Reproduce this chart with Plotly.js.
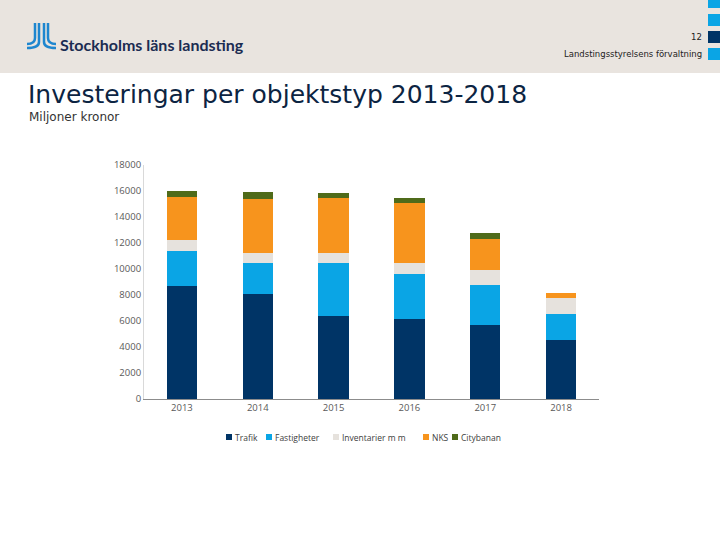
<!DOCTYPE html>
<html><head><meta charset="utf-8">
<script src="https://cdn.plot.ly/plotly-3.0.1.min.js"></script>
<style>body{margin:0;padding:0;background:#fff}#chart{width:720px;height:540px}</style>
</head><body><div id="chart"></div>
<script>
var years = ['2013','2014','2015','2016','2017','2018'];
var trafik = [8700, 8080, 6410, 6180, 5720, 4560];
var fastigheter = [2700, 2380, 4050, 3460, 3020, 2000];
var inventarier = [850, 790, 740, 820, 1180, 1230];
var nks = [3270, 4160, 4290, 4640, 2360, 360];
var citybanan = [480, 490, 360, 390, 460, 0];
var seriesNames = ['Trafik','Fastigheter','Inventarier m m','NKS','Citybanan'];
var seriesColors = ['#003466','#0aa5e5','#e6e2dd','#f7941d','#4f6b1a'];
var yTicks = [0,2000,4000,6000,8000,10000,12000,14000,16000,18000];

var L=144, R=599, T=165, B=399;
function X(p){return (p-L)/(R-L);}
function Y(p){return (B-p)/(B-T);}

var vals=[trafik,fastigheter,inventarier,nks,citybanan];
var traces = vals.map(function(v,i){
  return {type:'bar', x:years, y:v, name:seriesNames[i], marker:{color:seriesColors[i]}, hoverinfo:'x+y+name', showlegend:false};
});

function P(cmds){
  return cmds.map(function(c){
    if(c[0]==='M'||c[0]==='L') return c[0]+X(c[1]).toFixed(5)+','+Y(c[2]).toFixed(5);
    if(c[0]==='Q') return 'Q'+X(c[1]).toFixed(5)+','+Y(c[2]).toFixed(5)+' '+X(c[3]).toFixed(5)+','+Y(c[4]).toFixed(5);
  }).join(' ');
}
var logoColor='#1e86cf';
var shapes=[
  {type:'rect',xref:'paper',yref:'paper',x0:X(0),x1:X(720),y0:Y(73),y1:Y(0),fillcolor:'#e9e4df',line:{width:0},layer:'below'},
  {type:'rect',xref:'paper',yref:'paper',x0:X(708),x1:X(721),y0:Y(8),y1:Y(-1),fillcolor:'#0aa5e5',line:{width:0}},
  {type:'rect',xref:'paper',yref:'paper',x0:X(708),x1:X(721),y0:Y(26),y1:Y(14),fillcolor:'#0aa5e5',line:{width:0}},
  {type:'rect',xref:'paper',yref:'paper',x0:X(708),x1:X(721),y0:Y(43),y1:Y(31),fillcolor:'#003466',line:{width:0}},
  {type:'rect',xref:'paper',yref:'paper',x0:X(708),x1:X(721),y0:Y(60),y1:Y(48),fillcolor:'#0aa5e5',line:{width:0}},
  {type:'path',xref:'paper',yref:'paper',path:P([['M',35,23],['L',35,38],['Q',35,44,27,44]]),line:{color:logoColor,width:2.5}},
  {type:'path',xref:'paper',yref:'paper',path:P([['M',39,23],['L',39,42],['Q',39,48,27,48]]),line:{color:logoColor,width:2.5}},
  {type:'path',xref:'paper',yref:'paper',path:P([['M',44,23],['L',44,42],['Q',44,48,56,48]]),line:{color:logoColor,width:2.5}},
  {type:'path',xref:'paper',yref:'paper',path:P([['M',48,23],['L',48,38],['Q',48,44,56,44]]),line:{color:logoColor,width:2.5}}
];

var annotations=[
  {xref:'paper',yref:'paper',x:X(58),y:Y(44),xanchor:'left',yanchor:'middle',showarrow:false,text:'<b>Stockholms läns landsting</b>',font:{family:'Lato, sans-serif',size:16,color:'#1b2c52'}},
  {xref:'paper',yref:'paper',x:X(704),y:Y(37),xanchor:'right',yanchor:'middle',showarrow:false,text:'12',font:{family:'DejaVu Sans, sans-serif',size:8.5,color:'#222'}},
  {xref:'paper',yref:'paper',x:X(704),y:Y(54),xanchor:'right',yanchor:'middle',showarrow:false,text:'Landstingsstyrelsens förvaltning',font:{family:'DejaVu Sans, sans-serif',size:8.5,color:'#222'}},
  {xref:'paper',yref:'paper',x:X(26),y:Y(95),xanchor:'left',yanchor:'middle',showarrow:false,text:'Investeringar per objektstyp 2013-2018',font:{family:'DejaVu Sans, sans-serif',size:25,color:'#0c2442'}},
  {xref:'paper',yref:'paper',x:X(27),y:Y(117),xanchor:'left',yanchor:'middle',showarrow:false,text:'Miljoner kronor',font:{family:'DejaVu Sans, sans-serif',size:12,color:'#333'}}
];

// custom compact legend
var legendSq=[226,266,333,423,452];
seriesNames.forEach(function(n,i){
  shapes.push({type:'rect',xref:'paper',yref:'paper',x0:X(legendSq[i]),x1:X(legendSq[i]+6),y0:Y(440),y1:Y(434),fillcolor:seriesColors[i],line:{width:0}});
  annotations.push({xref:'paper',yref:'paper',x:X(legendSq[i]+7),y:Y(437.5),xanchor:'left',yanchor:'middle',showarrow:false,text:n,font:{family:'Open Sans, sans-serif',size:8.5,color:'#404040'}});
});

var layout={
  width:720,height:540,autosize:false,
  margin:{l:L,r:720-R,t:T,b:540-B,pad:0},
  paper_bgcolor:'#ffffff',plot_bgcolor:'#ffffff',
  barmode:'stack',bargap:0.6,
  showlegend:false,
  xaxis:{type:'category',range:[-0.5,5.5],showline:true,linecolor:'#8c8c8c',linewidth:1,ticks:'',showgrid:false,zeroline:false,
    tickfont:{family:'Open Sans, sans-serif',size:9.5,color:'#595959'},fixedrange:true},
  yaxis:{range:[0,18000],tickvals:yTicks,ticktext:yTicks.map(String),showline:true,linecolor:'#d9d9d9',linewidth:1,ticks:'',showgrid:false,zeroline:false,
    tickfont:{family:'Open Sans, sans-serif',size:9.5,color:'#595959'},fixedrange:true},
  shapes:shapes,annotations:annotations
};
Plotly.newPlot('chart',traces,layout,{displayModeBar:false,staticPlot:true});
</script></body></html>
